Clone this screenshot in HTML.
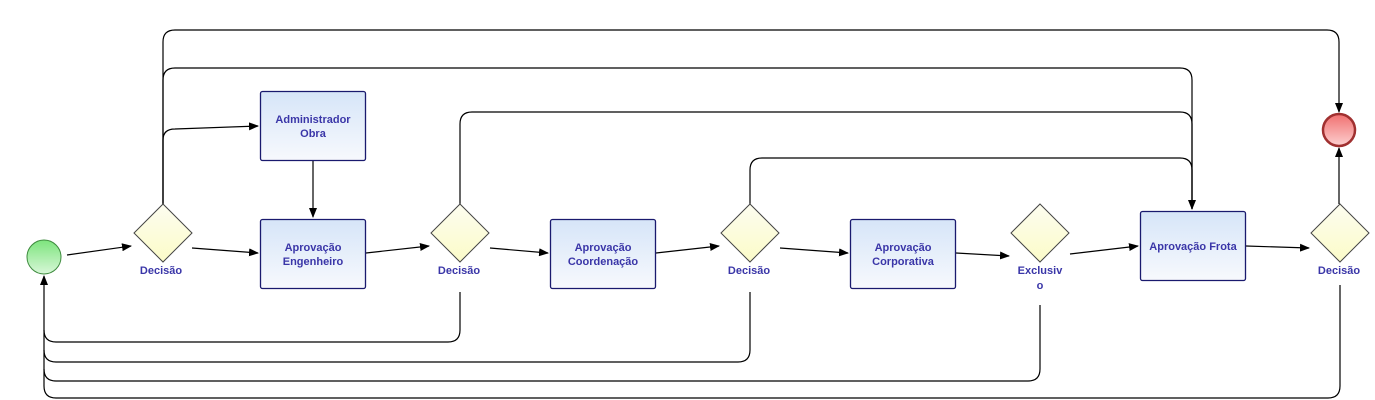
<!DOCTYPE html>
<html><head><meta charset="utf-8"><style>
html,body{margin:0;padding:0;background:#fff;width:1375px;height:400px;overflow:hidden}
text{font-family:"Liberation Sans",sans-serif;font-size:11px;font-weight:bold;fill:#3a36a8;text-anchor:middle}
</style></head><body>
<svg width="1375" height="400" viewBox="0 0 1375 400" xmlns="http://www.w3.org/2000/svg">
<defs>
<linearGradient id="bx" x1="0" y1="0" x2="0" y2="1"><stop offset="0" stop-color="#d6e5f8"/><stop offset="1" stop-color="#f7f9fd"/></linearGradient>
<linearGradient id="dm" x1="0" y1="0" x2="0" y2="1"><stop offset="0" stop-color="#fdfdf0"/><stop offset="1" stop-color="#fbfbc8"/></linearGradient>
<linearGradient id="gr" x1="0" y1="0" x2="0" y2="1"><stop offset="0" stop-color="#7de47d"/><stop offset="1" stop-color="#d8f7d8"/></linearGradient>
<linearGradient id="rd" x1="0" y1="0" x2="0" y2="1"><stop offset="0" stop-color="#f07070"/><stop offset="1" stop-color="#fdd0d0"/></linearGradient>
<marker id="a" markerWidth="10" markerHeight="8" refX="9" refY="4" orient="auto" markerUnits="userSpaceOnUse"><path d="M0,0 L10,4 L0,8 z" fill="#000"/></marker>
</defs>
<g fill="none" stroke="#000" stroke-width="1.2">
<path d="M67,255 L131,246" marker-end="url(#a)"/>
<path d="M192,248 L258,253" marker-end="url(#a)"/>
<path d="M163,204 L163,140 Q163,129 175,129 L258,126" marker-end="url(#a)"/>
<path d="M313,161 L313,217" marker-end="url(#a)"/>
<path d="M163,204 L163,42 Q163,30 175,30 L1327,30 Q1339,30 1339,42 L1339,112" marker-end="url(#a)"/>
<path d="M163,204 L163,80 Q163,68 175,68 L1180,68 Q1192,68 1192,80 L1192,209" marker-end="url(#a)"/>
<path d="M366,253 L429,246" marker-end="url(#a)"/>
<path d="M460,204 L460,124 Q460,112 472,112 L1180,112 Q1192,112 1192,124 L1192,209"/>
<path d="M490,248 L548,253" marker-end="url(#a)"/>
<path d="M750,204 L750,170 Q750,158 762,158 L1180,158 Q1192,158 1192,170 L1192,209"/>
<path d="M656,253 L719,246" marker-end="url(#a)"/>
<path d="M780,248 L848,253" marker-end="url(#a)"/>
<path d="M956,253 L1009,256" marker-end="url(#a)"/>
<path d="M1070,254 L1138,246" marker-end="url(#a)"/>
<path d="M1246,246 L1309,248" marker-end="url(#a)"/>
<path d="M1339,204 L1339,148" marker-end="url(#a)"/>
<path d="M460,292 L460,330 Q460,342 448,342 L56,342 Q44,342 44,330"/>
<path d="M750,292 L750,350 Q750,362 738,362 L56,362 Q44,362 44,350"/>
<path d="M1040,305 L1040,369 Q1040,381 1028,381 L56,381 Q44,381 44,369"/>
<path d="M1340,285 L1340,386 Q1340,398 1328,398 L56,398 Q44,398 44,386 L44,276" marker-end="url(#a)"/>
</g>
<circle cx="44" cy="257" r="17" fill="url(#gr)" stroke="#3d8a3d" stroke-width="1"/>
<circle cx="1339" cy="130" r="16" fill="url(#rd)" stroke="#a03030" stroke-width="2.5"/>
<g stroke="#1a1a6e" stroke-width="1.3" fill="url(#bx)">
<rect x="260.5" y="91.5" width="105" height="69" rx="2"/>
<rect x="260.5" y="219.5" width="105" height="69" rx="2"/>
<rect x="550.5" y="219.5" width="105" height="69" rx="2"/>
<rect x="850.5" y="219.5" width="105" height="69" rx="2"/>
<rect x="1140.5" y="211.5" width="105" height="69" rx="2"/>
</g>
<g stroke="#444" stroke-width="1" fill="url(#dm)">
<path d="M163,204 L192,233 L163,262 L134,233 z"/>
<path d="M460,204 L489,233 L460,262 L431,233 z"/>
<path d="M750,204 L779,233 L750,262 L721,233 z"/>
<path d="M1040,204 L1069,233 L1040,262 L1011,233 z"/>
<path d="M1340,204 L1369,233 L1340,262 L1311,233 z"/>
</g>
<text x="313" y="123">Administrador</text><text x="313" y="137">Obra</text>
<text x="313" y="251">Aprovação</text><text x="313" y="265">Engenheiro</text>
<text x="603" y="251">Aprovação</text><text x="603" y="265">Coordenação</text>
<text x="903" y="251">Aprovação</text><text x="903" y="265">Corporativa</text>
<text x="1193" y="250">Aprovação Frota</text>
<text x="161" y="274">Decisão</text>
<text x="459" y="274">Decisão</text>
<text x="749" y="274">Decisão</text>
<text x="1339" y="274">Decisão</text>
<text x="1040" y="274">Exclusiv</text><text x="1040" y="289">o</text>
</svg>
</body></html>
